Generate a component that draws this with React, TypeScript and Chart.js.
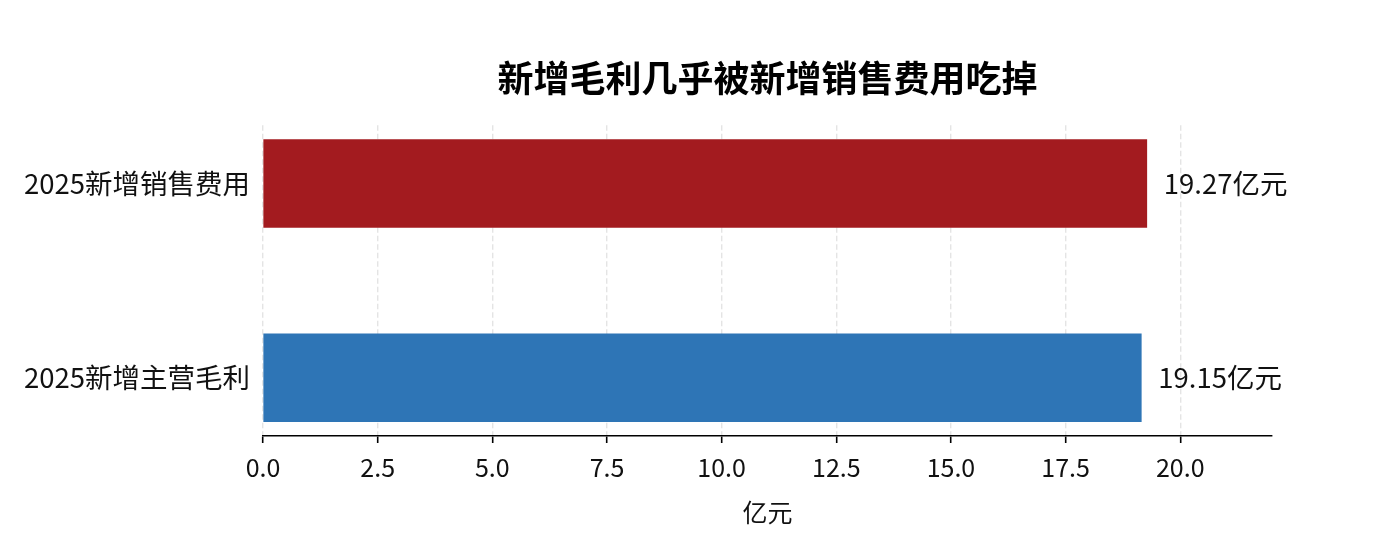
import { useEffect, useRef } from "react";
import { Chart, registerables } from "chart.js";

Chart.register(...registerables);

const categories = ["2025新增销售费用", "2025新增主营毛利"];
const values = [19.27, 19.15];
const barColors = ["#a31b1f", "#2e75b6"];
const unit = "亿元";
const title = "新增毛利几乎被新增销售费用吃掉";

const FONT = "'Noto Sans CJK SC', 'Noto Sans', sans-serif";

// writes "19.27亿元" to the right of each bar
const valueLabels = {
  id: "valueLabels",
  afterDatasetsDraw(chart: Chart) {
    const ctx = chart.ctx;
    const meta = chart.getDatasetMeta(0);
    ctx.save();
    ctx.font = `27.5px ${FONT}`;
    ctx.fillStyle = "#111";
    ctx.textAlign = "left";
    ctx.textBaseline = "middle";
    meta.data.forEach((bar: any, i) => {
      ctx.fillText(`${values[i].toFixed(2)}${unit}`, bar.x + 17, bar.y);
    });
    ctx.restore();
  },
};

const App = () => {
  const canvasRef = useRef<HTMLCanvasElement>(null);

  useEffect(() => {
    document.body.style.margin = "0";
    if (!canvasRef.current) return;

    const chart = new Chart(canvasRef.current, {
      type: "bar",
      data: {
        datasets: [
          {
            data: values.map((v, i) => ({ x: v, y: i })),
            backgroundColor: barColors,
            borderWidth: 0,
            barThickness: 88,
          },
        ],
      },
      options: {
        indexAxis: "y",
        animation: false,
        responsive: true,
        maintainAspectRatio: false,
        layout: { padding: { top: 0, right: 110, bottom: 0, left: 0 } },
        plugins: {
          legend: { display: false },
          tooltip: { enabled: false },
          title: {
            display: true,
            text: title,
            fullSize: false,
            color: "#000",
            font: { family: FONT, size: 36, weight: "bold", lineHeight: 1.2 },
            padding: { top: 57, bottom: 25 },
          },
        },
        scales: {
          x: {
            type: "linear",
            min: 0,
            max: 22,
            z: 1,
            afterFit: (scale: any) => {
              scale.height = 109;
            },
            ticks: {
              stepSize: 2.5,
              includeBounds: false,
              color: "#111",
              padding: 9,
              font: { family: FONT, size: 25 },
              callback: (v: any) => Number(v).toFixed(1),
            },
            grid: {
              color: "rgba(205,205,205,0.55)",
              lineWidth: 1.4,
              tickColor: "#000",
              tickLength: 7,
              tickWidth: 1.6,
            },
            border: { display: true, color: "#000", width: 1.6, dash: [5.5, 3] },
            title: {
              display: true,
              text: unit,
              color: "#111",
              font: { family: FONT, size: 25 },
              padding: { top: 4, bottom: 18 },
            },
          },
          y: {
            type: "linear",
            min: -0.3,
            max: 1.3,
            offset: false,
            reverse: true,
            afterFit: (scale: any) => {
              scale.width = 263;
            },
            afterBuildTicks: (scale: any) => {
              scale.ticks = categories.map((_, i) => ({ value: i }));
            },
            ticks: {
              color: "#111",
              padding: 13,
              font: { family: FONT, size: 27.5 },
              callback: (v: any) => categories[v] ?? "",
            },
            grid: { display: false, drawTicks: false },
            border: { display: false },
          },
        },
      },
      plugins: [valueLabels],
    });

    return () => chart.destroy();
  }, []);

  return (
    <div style={{ width: 1382, height: 545, position: "relative" }}>
      <canvas ref={canvasRef} />
    </div>
  );
};

export default App;
